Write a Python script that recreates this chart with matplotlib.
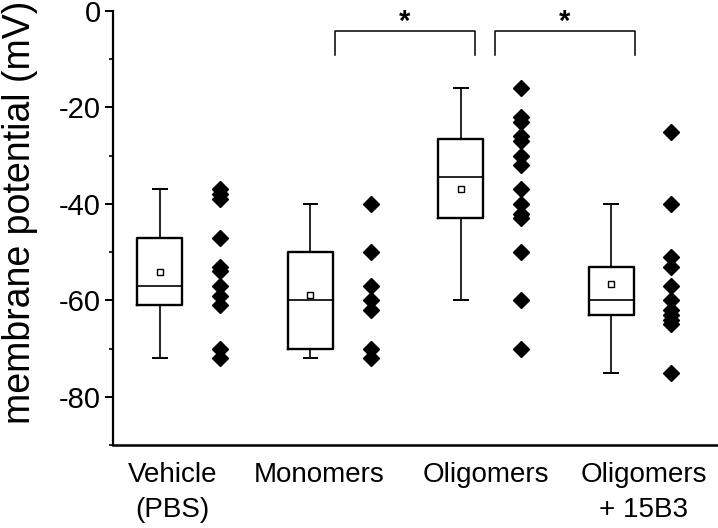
import matplotlib

matplotlib.use("Agg")

import matplotlib.pyplot as plt
from matplotlib.ticker import MultipleLocator

plt.rcParams["font.family"] = ["Liberation Sans", "DejaVu Sans"]
plt.rcParams["axes.unicode_minus"] = False

# group labels
groups = ["Vehicle\n(PBS)", "Monomers", "Oligomers", "Oligomers\n+ 15B3"]

# box statistics (mV)
whisker_hi = [-37, -40, -16, -40]
q3 = [-47, -50, -26.5, -53]
median = [-57, -60, -34.5, -60]
q1 = [-61, -70, -43, -63]
whisker_lo = [-72, -72, -60, -75]
mean = [-54.2, -58.8, -37, -56.6]

# individual cells (mV)
vehicle = [-37, -38, -39, -47, -53, -54, -57, -59, -61, -70, -72]
monomers = [-40, -50, -57, -60, -62, -70, -72]
oligomers = [-16, -22, -23, -26, -27, -30, -32, -37, -40, -42, -43, -50, -60, -70]
oligomers_15b3 = [-25, -40, -51, -53, -57, -60, -62, -63, -64, -65, -75]
points = [vehicle, monomers, oligomers, oligomers_15b3]

# significance brackets: (left x, right x) in group units
brackets = [(1.163, 2.093), (2.226, 3.156)]

# the category labels are not exactly centred on their groups
label_x = [0.086, 1.056, 2.166, 3.216]

fig = plt.figure(figsize=(7.18, 5.28), dpi=100)
ax = fig.add_axes([113 / 718, 83 / 528, 605 / 718, 434 / 528])

stats = []
for i in range(len(groups)):
    stats.append(dict(whislo=whisker_lo[i], q1=q1[i], med=median[i], q3=q3[i],
                      whishi=whisker_hi[i], mean=mean[i], fliers=[]))

box_pos = list(range(len(groups)))
ax.bxp(stats, positions=box_pos, widths=0.3, showmeans=True, showfliers=False,
       capwidths=0.09,
       boxprops=dict(color="black", linewidth=1.7),
       whiskerprops=dict(color="black", linewidth=1.2),
       capprops=dict(color="black", linewidth=1.4),
       medianprops=dict(color="black", linewidth=1.2),
       meanprops=dict(marker="s", markersize=4.5, markerfacecolor="white",
                      markeredgecolor="black", markeredgewidth=1.0))

for i, vals in enumerate(points):
    ax.plot([i + 0.4] * len(vals), vals, linestyle="none", marker="D",
            markersize=8, color="black")

for x0, x1 in brackets:
    ax.plot([x0, x0, x1, x1], [-9.1, -4.1, -4.1, -9.1], color="black",
            linewidth=1.1, clip_on=False)
    ax.text((x0 + x1) / 2, -2.2, "*", ha="center", va="center", fontsize=21,
            fontweight="bold")

for x, name in zip(label_x, groups):
    ax.text(x, -0.04, name, transform=ax.get_xaxis_transform(),
            ha="center", va="top", fontsize=20, linespacing=1.45)

ax.set_xlim(-0.312, 3.71)
ax.set_ylim(-90, 0)
ax.yaxis.set_major_locator(MultipleLocator(20))
ax.yaxis.set_minor_locator(MultipleLocator(10))
ax.set_xticks([])
ax.tick_params(axis="y", which="major", length=6, width=1.4, labelsize=21, pad=3)
ax.tick_params(axis="y", which="minor", length=3, width=1.2)
for side in ("top", "right"):
    ax.spines[side].set_visible(False)
ax.spines["left"].set_linewidth(1.6)
ax.spines["bottom"].set_linewidth(1.8)

fig.text(20 / 718, 1 - 212 / 528, "membrane potential (mV)", rotation=90,
         ha="center", va="center", fontsize=27)

fig.savefig("out.png", dpi=100)
plt.close(fig)
